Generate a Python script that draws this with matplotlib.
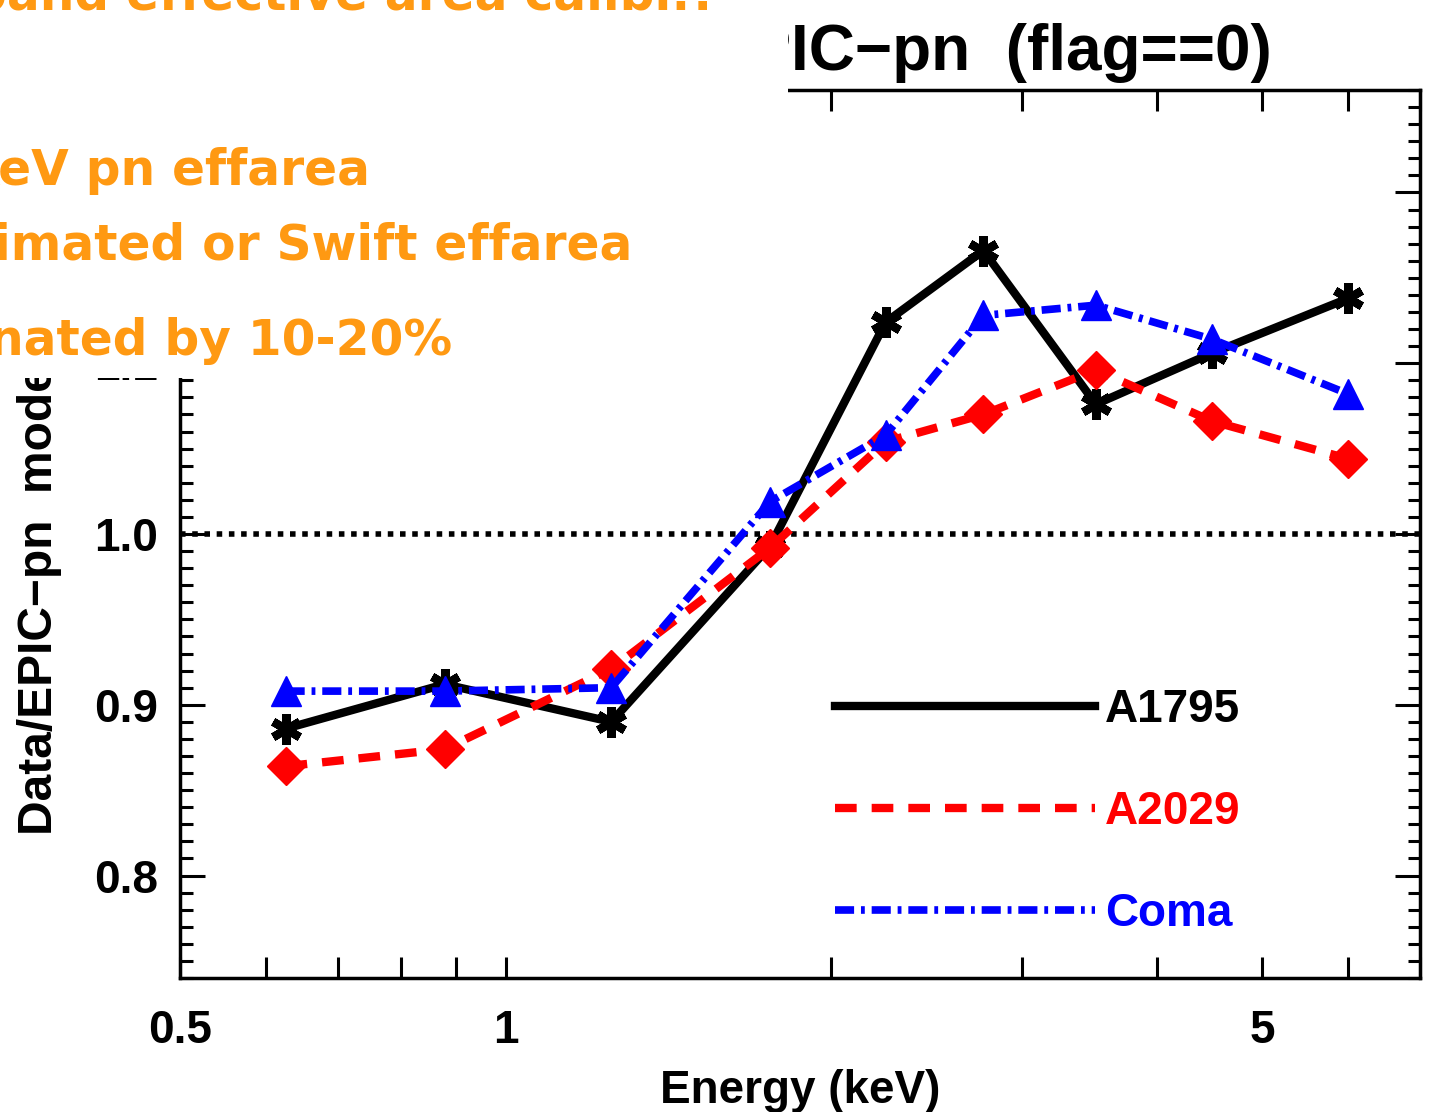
import numpy as np
import matplotlib.pyplot as plt
from matplotlib.patches import Rectangle
from matplotlib.ticker import FixedLocator, NullFormatter

# values
energy = [0.626, 0.878, 1.252, 1.756, 2.245, 2.764, 3.512, 4.50, 6.01]
a1795 = [0.886, 0.912, 0.890, 0.993, 1.124, 1.166, 1.076, 1.106, 1.138]
a2029 = [0.864, 0.874, 0.921, 0.992, 1.054, 1.070, 1.096, 1.066, 1.044]
coma = [0.908, 0.908, 0.910, 1.019, 1.058, 1.128, 1.134, 1.114, 1.082]
names = ['A1795', 'A2029', 'Coma']
colors = ['black', '#ff0000', '#0000ff']

xmajor = [0.5, 1, 5]
xminor = [0.6, 0.7, 0.8, 0.9, 2, 3, 4, 6, 7]
ymajor = [0.8, 0.9, 1.0, 1.1, 1.2]

orange_lines = ['band effective area calibr.?', 'keV pn effarea',
                'imated or Swift effarea', 'nated by 10-20%']

W, H = 1429, 1112
fig = plt.figure(figsize=(W / 100, H / 100), dpi=100)
ax = fig.add_axes([180 / W, 1 - 978 / H, 1240 / W, 888 / H])
font = 'Liberation Sans'

red_dash = [2.6, 1.8]
blue_dash = [2.5, 0.9, 0.5, 0.9]

ax.axhline(1.0, color='black', lw=4, dashes=[1, 1.2], zorder=1)

ax.plot(energy, a1795, color=colors[0], lw=6, marker=(6, 2, 0), ms=22, mew=6, zorder=2)
ax.plot(energy, a2029, color=colors[1], lw=6, dashes=red_dash, marker='D', ms=19, zorder=3)
ax.plot(energy, coma, color=colors[2], lw=5.5, dashes=blue_dash, marker='^', ms=22, zorder=4)

ax.set_xscale('log')
ax.set_xlim(0.5, 7)
ax.set_ylim(0.74, 1.26)

ax.xaxis.set_major_locator(FixedLocator(xmajor))
ax.xaxis.set_minor_locator(FixedLocator(xminor))
ax.xaxis.set_minor_formatter(NullFormatter())
ax.set_xticklabels(['0.5', '1', '5'])
ax.yaxis.set_major_locator(FixedLocator(ymajor))
ax.yaxis.set_minor_locator(FixedLocator(np.round(np.arange(0.74, 1.261, 0.01), 2)))
ax.set_yticklabels(['0.8', '0.9', '1.0', '1.1', '1.2'])

ax.tick_params(axis='both', which='both', direction='in', top=True, right=True, width=2.2)
ax.tick_params(axis='x', which='both', length=15, pad=22)
ax.tick_params(axis='y', which='major', length=18, pad=16)
ax.tick_params(axis='y', which='minor', length=9)
for lab in ax.get_xticklabels() + ax.get_yticklabels():
    lab.set_fontfamily(font)
    lab.set_fontweight('bold')
    lab.set_fontsize(33)
for s in ax.spines.values():
    s.set_linewidth(2.5)

ax.set_xlabel('Energy (keV)', fontsize=33, fontweight='bold', family=font, labelpad=12)

# legend drawn by hand, IDL style
styles = [dict(lw=6), dict(lw=6, dashes=red_dash), dict(lw=5.5, dashes=blue_dash)]
rows = [0.306, 0.191, 0.0766]
for name, c, st, yy in zip(names, colors, styles, rows):
    ax.plot([0.528, 0.738], [yy, yy], transform=ax.transAxes, color=c, **st)
    ax.text(0.746, yy - 0.004, name, transform=ax.transAxes, color=c, fontsize=33,
            fontweight='bold', family=font, va='center', ha='left')

fig.text(1272 / W, 1 - 70 / H, 'EPIC\u2212pn  (flag==0)', ha='right', va='baseline',
         fontsize=46, fontweight='bold', family=font)
fig.text(40 / W, 1 - 835 / H, 'Data/EPIC\u2212pn  model', rotation=90, ha='center',
         va='bottom', fontsize=34.5, fontweight='bold', family=font)

# white slide box with orange notes on top
fig.add_artist(Rectangle((0, 1 - 378 / H), 788 / W, 378 / H, transform=fig.transFigure,
                         facecolor='white', edgecolor='none', zorder=5))
orange = '#ff9912'
ys = [9, 185, 260, 355]
xr = [718, 370, 632, 452]
for txt, yb, xe in zip(orange_lines, ys, xr):
    fig.text(xe / W, 1 - yb / H, txt, ha='right', va='baseline', color=orange,
             fontsize=35, fontweight='bold', family='DejaVu Sans', zorder=6)

fig.savefig('out.png', dpi=100)
